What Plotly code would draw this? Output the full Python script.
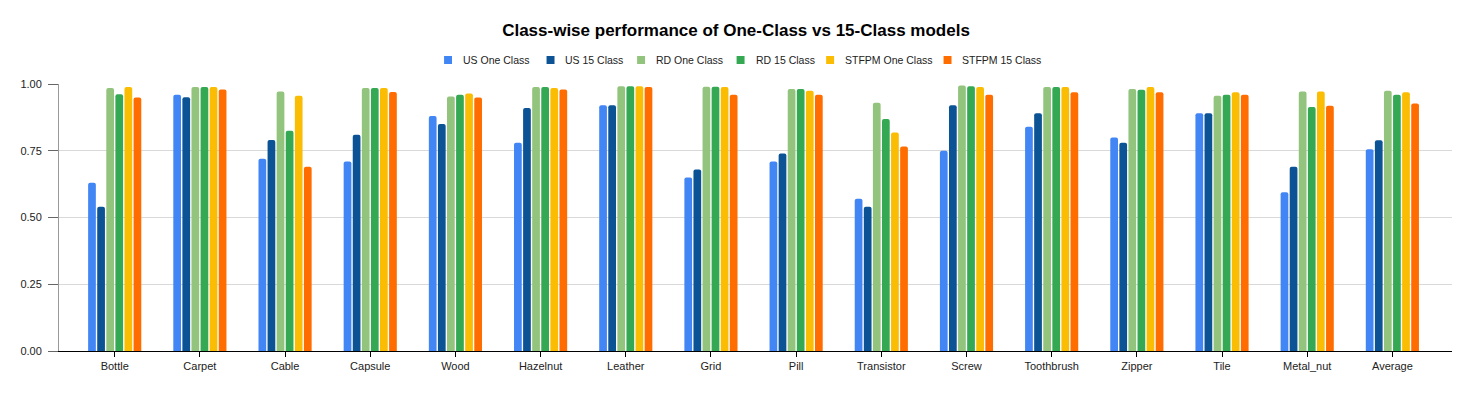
import plotly.graph_objects as go

categories = ["Bottle", "Carpet", "Cable", "Capsule", "Wood", "Hazelnut", "Leather", "Grid",
              "Pill", "Transistor", "Screw", "Toothbrush", "Zipper", "Tile", "Metal_nut", "Average"]

us_one = [0.63, 0.96, 0.72, 0.71, 0.88, 0.78, 0.92, 0.65, 0.71, 0.57, 0.75, 0.84, 0.80, 0.89, 0.595, 0.756]
us_15 = [0.54, 0.95, 0.79, 0.81, 0.85, 0.91, 0.92, 0.68, 0.74, 0.54, 0.92, 0.89, 0.78, 0.89, 0.69, 0.789]
rd_one = [0.985, 0.989, 0.972, 0.985, 0.953, 0.989, 0.992, 0.99, 0.981, 0.93, 0.994, 0.989, 0.981, 0.956, 0.972, 0.975]
rd_15 = [0.962, 0.989, 0.825, 0.985, 0.96, 0.989, 0.992, 0.99, 0.981, 0.869, 0.992, 0.989, 0.978, 0.96, 0.914, 0.96]
stfpm_one = [0.989, 0.989, 0.956, 0.985, 0.964, 0.985, 0.992, 0.989, 0.975, 0.818, 0.989, 0.989, 0.989, 0.969, 0.972, 0.969]
stfpm_15 = [0.949, 0.979, 0.69, 0.97, 0.949, 0.979, 0.989, 0.96, 0.96, 0.766, 0.96, 0.969, 0.969, 0.96, 0.919, 0.927]

series_names = ["US One Class", "US 15 Class", "RD One Class", "RD 15 Class", "STFPM One Class", "STFPM 15 Class"]
series_values = [us_one, us_15, rd_one, rd_15, stfpm_one, stfpm_15]
series_colors = ["#4285F4", "#0B5394", "#93C47D", "#34A853", "#FBBC04", "#FF6D01"]

# page has an 8px body margin; figure sized so the plot area lands where the reference has it
W, H = 1463, 386
ML, MR, MT, MB = 44, 19, 76, 43
PLOT_W = W - ML - MR
PLOT_H = H - MT - MB

fig = go.Figure()
for name, vals, color in zip(series_names, series_values, series_colors):
    fig.add_trace(go.Bar(
        name=name, x=categories, y=vals,
        marker=dict(color=color, line=dict(width=0)),
        showlegend=False,
        hovertemplate="%{x}: %{y}<extra>" + name + "</extra>",
    ))

font_family = "Liberation Sans, Arial, sans-serif"

# custom compact legend (Google-Charts style): square + label
legend_sq_x = [439, 542, 633, 733, 823, 941]  # page px of each square's left edge
legend_y_px = 60
shapes = []
annotations = []
for sx, name, color in zip(legend_sq_x, series_names, series_colors):
    x0 = (sx - 8 - ML) / PLOT_W
    x1 = (sx + 8 - 8 - ML) / PLOT_W
    yc = (H - MB - (legend_y_px - 8)) / PLOT_H
    hh = 4 / PLOT_H
    shapes.append(dict(type="rect", xref="paper", yref="paper",
                       x0=x0, x1=x1, y0=yc - hh, y1=yc + hh,
                       fillcolor=color, line=dict(width=0)))
    annotations.append(dict(xref="paper", yref="paper",
                            x=(sx + 17 - 8 - ML) / PLOT_W, y=yc,
                            xanchor="left", yanchor="middle", showarrow=False,
                            text=name, font=dict(family=font_family, size=10.5, color="#222222")))

fig.update_layout(
    width=W, height=H,
    barmode="group",
    bargap=0.36,
    bargroupgap=0.15,
    barcornerradius=2,
    plot_bgcolor="white",
    paper_bgcolor="white",
    font=dict(family=font_family, size=11, color="#222222"),
    title=dict(
        text="<b>Class-wise performance of One-Class vs 15-Class models</b>",
        x=(736 - 8) / W, xanchor="center", y=1 - (30 - 8) / H, yanchor="middle",
        font=dict(family=font_family, size=17, color="#000000"),
    ),
    showlegend=False,
    shapes=shapes,
    annotations=annotations,
    margin=dict(l=ML, r=MR, t=MT, b=MB, pad=0),
    xaxis=dict(
        type="category",
        range=[-0.654, 15.70],
        showline=True, linecolor="#000000", linewidth=1,
        ticks="outside", ticklen=5, tickcolor="#000000",
        showgrid=False,
        tickfont=dict(size=11, color="#222222"),
    ),
    yaxis=dict(
        range=[0, 1],
        tickvals=[0, 0.25, 0.5, 0.75, 1.0],
        ticktext=["0.00", "0.25", "0.50", "0.75", "1.00"],
        showline=True, linecolor="#999999", linewidth=1,
        ticks="outside", ticklen=10, tickcolor="#666666",
        ticklabelstandoff=4,
        showgrid=True, gridcolor="#d9d9d9", gridwidth=1,
        zeroline=False,
        tickfont=dict(size=11, color="#222222"),
    ),
)

fig.write_html("out.html")
